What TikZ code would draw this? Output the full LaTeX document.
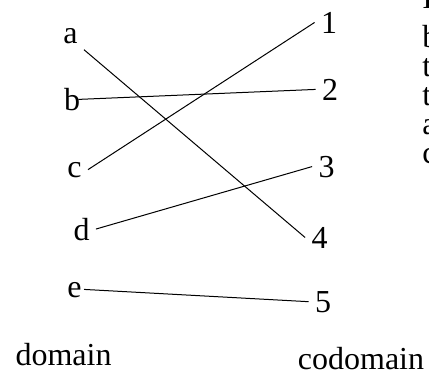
\documentclass[tikz,border=0pt]{standalone}
\usepackage{fontspec}
\setmainfont{Liberation Serif}

\begin{document}
\begin{tikzpicture}[x=0.5pt,y=-0.5pt,font=\fontsize{16}{19}\selectfont,
	elem/.style={inner sep=3pt,anchor=base},
	map/.style={line width=0.5pt}]
	\useasboundingbox (0,0) rectangle (429,372);
%
	\node[elem] (a) at (70.5,43) {a};
	\node[elem] (b) at (72,110) {b};
	\node[elem] (c) at (74.5,177) {c};
	\node[elem] (d) at (81.5,240) {d};
	\node[elem] (e) at (74.5,297) {e};
%
	\node[elem] (one) at (329,33) {1};
	\node[elem] (two) at (330,100) {2};
	\node[elem] (three) at (326.5,177) {3};
	\node[elem] (four) at (319.5,248) {4};
	\node[elem] (five) at (323,312) {5};
%
	\draw[map] (a.south east) -- (four.west);
	\draw[map,shorten <=-4pt] (b.east) -- (two.west);
	\draw[map] (c.east) -- (one.west);
	\draw[map] (d.east) -- (three.west);
	\draw[map,shorten <=-2pt] (e.east) -- (five.west);
%
	\node[anchor=base] (dom) at (63.5,365) {domain};
	\node[anchor=base] (codom) at (361,369) {codomain};
%
	\begin{scope}
		\clip (0,0) rectangle (429,372);
		\node[anchor=base west,inner sep=0pt] (t1) at (422,8) {I};
		\node[anchor=base west,inner sep=0pt] (t2) at (422,47) {b};
		\node[anchor=base west,inner sep=0pt] (t3) at (422,76) {t};
		\node[anchor=base west,inner sep=0pt] (t4) at (422,105) {t};
		\node[anchor=base west,inner sep=0pt] (t5) at (422,134) {a};
		\node[anchor=base west,inner sep=0pt] (t6) at (422,163) {c};
	\end{scope}
\end{tikzpicture}
\end{document}
